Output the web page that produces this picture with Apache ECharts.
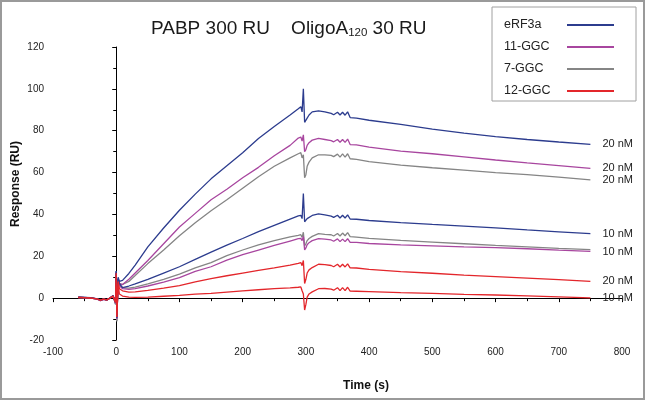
<!DOCTYPE html>
<html>
<head>
<meta charset="utf-8">
<script src="https://cdn.jsdelivr.net/npm/echarts@6/dist/echarts.min.js"></script>
<style>html,body{margin:0;padding:0;background:#fff}#c{width:645px;height:400px}</style>
</head>
<body>
<div id="c"></div>
<script>
// ---- data (time in s, response in RU) ----
const times = [-60,-50,-40,-30,-25,-20,-15,-10,-5,-3,
  -1,0,1,3,5,10,20,30,50,75,
  100,125,150,175,200,225,250,275,288,292,
  294,296,298,300,302,305,310,320,330,340,
  344,350,354,358,362,366,370,380,400,450,
  500,550,600,650,700,750];

const eRF3a_20 = [0.5,0.4,0.2,-0.3,-1,-0.5,-0.8,0,1.2,0.5,
  -2,13,-9,10,8,8.5,11.8,15.8,24.5,33.5,
  42,49.7,57,63.3,69.5,76.3,82,87.5,90.5,91.5,
  89,100,84,83.5,86,87.5,89,89.5,89,88.3,
  87.6,88.8,87.5,88.8,87.4,89,86.3,86,85,83,
  80.8,78.8,77.2,75.8,74.6,73.5];
const eRF3a_10 = [0.5,0.3,0.1,-0.3,-1,-0.4,-0.8,0,1.1,0.5,
  -2,13,-9.5,9.5,7,5,5.8,6.8,9,12,
  15,18.5,22,25.3,28.5,31.8,34.8,37.8,39.3,39.6,
  38,50,36.5,37,38,38.8,39.5,40.3,39.8,39.2,
  38.6,39.6,38.3,39.6,38.3,39.8,37.8,37.7,37.1,36.1,
  35.2,34.4,33.6,32.6,31.7,30.8];
const ggc11_20 = [0.3,0.2,0,-0.5,-1.2,-0.6,-1,0.2,1,0.3,
  -2.5,12.5,-10,9,7,6.5,9,12,18,26,
  34,40.5,47,52,57.5,62.5,68,73,76.5,77,
  75,78,70,71,73,74.3,75.5,76.3,75.8,75.3,
  74.7,75.8,74.5,75.8,74.4,76,73.4,73.2,72.2,70.2,
  69,67.5,66,64.6,63.3,62];
const ggc11_10 = [0.3,0.2,0,-0.5,-1.2,-0.6,-1,0.1,1,0.3,
  -2.5,12,-10,9,6,4.5,4.2,4.5,5.8,7.7,
  9.8,12.8,15,18.2,20.8,23,25.2,27.3,28.4,28.6,
  27.5,29.5,23,24,25.5,26.5,27.5,28.4,28.2,27.8,
  27.2,28.3,27,28.2,27,28.4,26.6,26.6,26.1,25.5,
  25,24.5,24.1,23.6,22.9,22.3];
const ggc7_20 = [0.4,0.2,0,-0.4,-1,-0.5,-0.9,0,1,0.4,
  -3,12,-11,9,7,6.5,8,10.8,16.5,23,
  29.8,36,41.8,47,52.5,58,63,67,69,69.5,
  67,68.5,57.5,59,63,65,67,68.5,68.5,68.2,
  67.6,68.8,67.4,68.9,67.4,69,66.6,66.3,65.2,63.6,
  62.3,61.2,60,59,57.8,56.5];
const ggc7_10 = [0.4,0.2,0,-0.4,-1.1,-0.5,-0.9,0,1,0.4,
  -3,12,-11,9,6.5,5,4.8,5.3,6.8,9,
  11.5,14.5,17,20.3,23,25.5,27.5,29.3,30,30.3,
  29,31.5,25,26,27.5,28.5,29.5,30.8,30.5,30.3,
  29.7,30.9,29.7,31.1,29.8,31.3,29.4,29.2,28.6,27.6,
  26.8,26,25.2,24.5,23.8,23.2];
const ggc12_20 = [0.4,0.2,0,-0.4,-1,-0.5,-0.8,0,1,0.4,
  -2,12,-9,8,4.5,3.5,2.9,3,3.7,4.8,
  6,7.8,9.3,10.7,12,13.3,14.5,15.8,16.6,17,
  15.5,18,7,9,12,13.5,14.6,16.2,16,15.6,
  15,16.2,14.9,16.2,14.9,16.4,14.5,14.4,13.7,12.7,
  11.9,11,10.3,9.6,8.8,8];
const ggc12_10 = [0.3,0.2,0,-0.4,-1,-0.5,-0.8,0,0.9,0.3,
  -2,11,-9,7,2,1,0.5,0.4,0.5,0.9,
  1.3,1.9,2.3,2.9,3.5,4,4.5,4.9,5.2,5.4,
  3.5,2,-5.7,-3,0.5,2,3,4.5,4.6,4.3,
  3.8,5,3.6,5,3.6,5.2,3.4,3.3,3.1,2.6,
  2.3,1.8,1.5,1.1,0.6,0.1];

const legendNames = ['eRF3a','11-GGC','7-GGC','12-GGC'];
const xTicks = {min:-100, max:800, step:100};
const yTicks = {min:-20, max:120, step:20};

// ---- chart ----
const colors = {'eRF3a':'#2c3c8e','11-GGC':'#a8469f','7-GGC':'#858585','12-GGC':'#e3262b'};
const font = 'Liberation Sans, Arial, sans-serif';

function pairs(vals){ return times.map((t,i)=>[t, vals[i]]); }
function mk(name, vals, label){
  const s = {
    name: name, type:'line', data: pairs(vals), symbol:'none', showSymbol:false,
    lineStyle:{width:1.3, color: colors[name]}, itemStyle:{color: colors[name]},
    animation:false
  };
  if (label){
    s.endLabel = {show:true, formatter: label, distance: 12, color:'#222',
      fontSize:11, fontFamily: font};
  }
  return s;
}

const chart = echarts.init(document.getElementById('c'), null, {renderer:'canvas'});
chart.setOption({
  animation:false,
  textStyle:{fontFamily: font},
  title:{
    text:'{a|PABP 300 RU    OligoA}{s|120}{a| 30 RU}',
    left:151, top:19, padding:0,
    textStyle:{fontWeight:'normal', rich:{
      a:{fontSize:19, fontWeight:'normal', color:'#1a1a1a', fontFamily:font, lineHeight:20},
      s:{fontSize:11.5, fontWeight:'normal', color:'#1a1a1a', fontFamily:font, lineHeight:9, verticalAlign:'bottom'}
    }}
  },
  legend:{
    data: legendNames, orient:'vertical', left:492, top:7, align:'right',
    icon:'rect', itemWidth:47, itemHeight:2, itemGap:8,
    padding:[11,22,3,12], borderColor:'#a0a0a0', borderWidth:1,
    formatter: n => '{n|' + n + '}',
    textStyle:{fontSize:12.5, color:'#222', lineHeight:14, fontFamily:font,
      rich:{n:{width:58, align:'left', fontSize:12.5, color:'#222', lineHeight:14, fontFamily:font}}}
  },
  grid:{left:53, right:23, top:47, bottom:60, containLabel:false},
  xAxis:{
    type:'value', min:xTicks.min, max:xTicks.max, interval:xTicks.step,
    axisLine:{lineStyle:{color:'#000', width:1}},
    axisTick:{length:4, lineStyle:{color:'#000'}},
    minorTick:{show:true, splitNumber:2, length:3, lineStyle:{color:'#000'}},
    splitLine:{show:false},
    axisLabel:{fontSize:10, color:'#222', margin:7}
  },
  yAxis:{
    type:'value', min:yTicks.min, max:yTicks.max, interval:yTicks.step,
    axisLine:{show:true, lineStyle:{color:'#000', width:1}},
    axisTick:{show:true, length:4, lineStyle:{color:'#000'}},
    minorTick:{show:true, splitNumber:2, length:3, lineStyle:{color:'#000'}},
    splitLine:{show:false},
    axisLabel:{fontSize:10, color:'#222', margin:9}
  },
  graphic:[
    {type:'rect', shape:{x:1, y:1, width:643, height:398}, style:{fill:null, stroke:'#9a9a9a', lineWidth:2}, silent:true},
    {type:'text', x:366, y:386, style:{text:'Time (s)', font:'bold 12px '+font, fill:'#111', textAlign:'center', textVerticalAlign:'middle'}},
    {type:'text', x:16, y:184, rotation:Math.PI/2, style:{text:'Response (RU)', font:'bold 12px '+font, fill:'#111', textAlign:'center', textVerticalAlign:'middle'}}
  ],
  series:[
    mk('7-GGC', ggc7_10, null),
    mk('11-GGC', ggc11_10, '10 nM'),
    mk('7-GGC', ggc7_20, '20 nM'),
    mk('11-GGC', ggc11_20, '20 nM'),
    mk('eRF3a', eRF3a_10, '10 nM'),
    mk('eRF3a', eRF3a_20, '20 nM'),
    mk('12-GGC', ggc12_20, '20 nM'),
    mk('12-GGC', ggc12_10, '10 nM')
  ]
});
</script>
</body>
</html>
